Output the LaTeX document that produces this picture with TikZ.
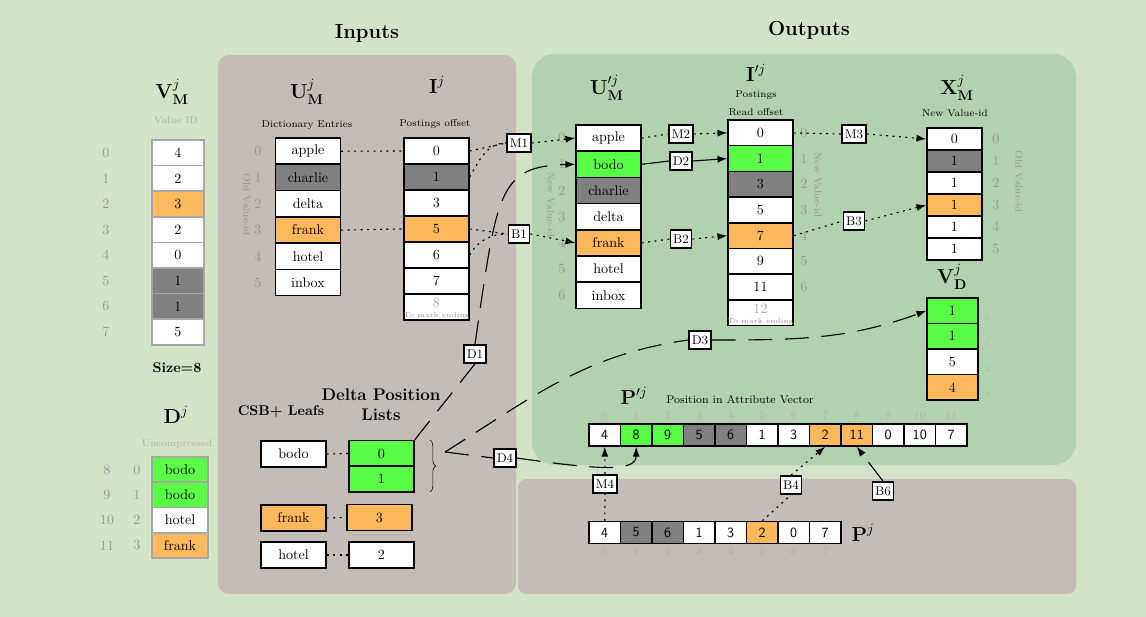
\documentclass[tikz,border=0pt]{standalone}
\usepackage{amssymb}
\usepackage{tikz}
\usetikzlibrary{arrows.meta,decorations.pathreplacing}

\definecolor{bgback}{RGB}{211,227,200}
\definecolor{inpanel}{RGB}{196,188,182}
\definecolor{outpanel}{RGB}{178,210,175}
\definecolor{cgreen}{RGB}{90,255,72}
\definecolor{corange}{RGB}{255,184,92}
\definecolor{cgray}{RGB}{128,128,128}
\definecolor{idgray}{RGB}{150,150,150}
\definecolor{subgray}{RGB}{172,172,172}

\tikzstyle{cell} = [draw,line width=1pt,rectangle,inner sep=0pt,minimum width=1.625cm,minimum height=0.65cm]
\tikzstyle{vmcell} = [cell,draw=black!35,line width=1.2pt,minimum width=1.3cm,minimum height=0.64cm]
\tikzstyle{dcell} = [vmcell,minimum width=1.4cm,minimum height=0.63cm]
\tikzstyle{xcell} = [cell,minimum width=1.375cm,minimum height=0.55cm]
\tikzstyle{vdcell} = [cell,minimum width=1.275cm,minimum height=0.64cm]
\tikzstyle{pcell} = [cell,minimum width=0.79cm,minimum height=0.55cm,font=\sffamily]
\tikzstyle{idx} = [text=idgray,inner sep=1pt]
\tikzstyle{tinyidx} = [text=subgray,font=\tiny,inner sep=1pt]
\tikzstyle{posidx} = [text=subgray,font=\scriptsize,inner sep=1pt]
\tikzstyle{title} = [font=\Large]
\tikzstyle{sub} = [font=\scriptsize]
\tikzstyle{tag} = [draw,line width=1pt,fill=white,inner sep=2pt,minimum height=13pt,font=\small]
\tikzstyle{dotline} = [thick,dash pattern=on 1.4pt off 3.2pt,>={Latex[length=7pt,width=5pt]}]
\tikzstyle{dashline} = [thick,dash pattern=on 17pt off 9pt,>={Latex[length=7pt,width=5pt]}]
\tikzstyle{arrow} = [thick,->,>={Latex[length=7pt,width=5pt]}]

\begin{document}
\begin{tikzpicture}[x=0.025cm,y=-0.025cm]
    % background and panels
    \fill[bgback] (0,0) rectangle (1146,617);
    \useasboundingbox (0,0) rectangle (1146,617);
    \fill[inpanel,rounded corners=8pt] (218,55) rectangle (516,594);
    \fill[outpanel,rounded corners=16pt] (532,54) rectangle (1076,465);
    \fill[inpanel,rounded corners=6pt] (518,479) rectangle (1076,594);

    \node[font=\Large\bfseries] (inputs) at (367,34) {Inputs};
    \node[font=\Large\bfseries] (outputs) at (809,30) {Outputs};

    % value vector of main
    \node[title] (vmtitle) at (172,92) {$\mathbf{V}^{j}_{\mathbf{M}}$};
    \node[sub,text=subgray] (vmsub) at (176,120) {Value ID};
    \foreach \v/\c [count=\i from 0] in {4/white,2/white,3/corange,2/white,0/white,1/cgray,1/cgray,5/white}{
        \node[vmcell,fill=\c] (vm\i) at (178,{152.8+25.6*\i}) {\v};
        \node[idx] (vmid\i) at (106,{152.8+25.6*\i}) {\i};
    }
    \node[font=\bfseries] (vmsize) at (177,368) {Size=8};

    % delta
    \node[title] (dtitle) at (176,415) {$\mathbf{D}^{j}$};
    \node[sub,text=subgray] (dsub) at (177,444) {Uncompressed};
    \foreach \v/\c [count=\i from 0] in {bodo/cgreen,bodo/cgreen,hotel/white,frank/corange}{
        \pgfmathtruncatemacro\k{\i+8}
        \node[dcell,fill=\c] (d\i) at (180,{469.6+25.25*\i}) {\v};
        \node[idx] (did\i) at (137,{469.6+25.25*\i}) {\i};
        \node[idx] (dgid\i) at (107,{469.6+25.25*\i}) {\k};
    }

    % dictionary of main
    \node[title] (utitle) at (307,92) {$\mathbf{U}^{j}_{\mathbf{M}}$};
    \node[sub] (usub) at (307,125) {Dictionary Entries};
    \foreach \v/\c [count=\i from 0] in {apple/white,charlie/cgray,delta/white,frank/corange,hotel/white,inbox/white}{
        \node[cell,fill=\c] (u\i) at (308,{151.2+26.3*\i}) {\v};
        \node[idx] (uid\i) at (258,{151.2+26.3*\i}) {\i};
    }
    \node[sub,text=idgray,rotate=-90] (uold) at (247,205) {Old Value-id};

    % postings offset
    \node[title] (ititle) at (437,85) {$\mathbf{I}^{j}$};
    \node[sub] (isub) at (435,124) {Postings offset};
    \foreach \v/\c [count=\i from 0] in {0/white,1/cgray,3/white,5/corange,6/white,7/white}{
        \node[cell,fill=\c] (i\i) at (436.5,{151+26*\i}) {\v};
    }
    \node[cell,fill=white] (i6) at (436.5,307) {};
    \node[text=subgray,inner sep=0pt] (i6v) at (436.5,303) {8};
    \node[tinyidx,text=idgray,anchor=south] (i6end) at (i6.south) {To mark ending};

    % new dictionary
    \node[title] (uptitle) at (607,88) {$\mathbf{U}'^{j}_{\mathbf{M}}$};
    \foreach \v/\c [count=\i from 0] in {apple/white,bodo/cgreen,charlie/cgray,delta/white,frank/corange,hotel/white,inbox/white}{
        \node[cell,fill=\c] (up\i) at (608.5,{138.1+26.2*\i}) {\v};
        \node[idx] (upid\i) at (562,{138.1+26.2*\i}) {\i};
    }
    \node[sub,text=idgray,rotate=-90] (upnew) at (551,205) {New Value-id};

    % new postings
    \node[title] (iptitle) at (756,73) {$\mathbf{I}'^{j}$};
    \node[sub] (ipsub) at (756,95) {Postings};
    \node[sub] (ipsubb) at (756,112) {Read offset};
    \foreach \v/\c [count=\i from 0] in {0/white,1/cgreen,3/cgray,5/white,7/corange,9/white,11/white}{
        \node[cell,fill=\c,minimum height=0.64cm] (ip\i) at (760.5,{132.9+25.7*\i}) {\v};
        \node[idx] (ipid\i) at (804,{132.9+25.7*\i}) {\i};
    }
    \node[cell,fill=white,minimum height=0.64cm] (ip7) at (760.5,312.8) {};
    \node[text=subgray,inner sep=0pt] (ip7v) at (760.5,309) {12};
    \node[tinyidx,text=idgray,anchor=south] (ip7end) at (ip7.south) {To mark ending};
    \node[sub,text=idgray,rotate=-90] (ipnew) at (818,185) {New Value-id};

    % mapping old to new
    \node[title] (xtitle) at (957,88) {$\mathbf{X}^{j}_{\mathbf{M}}$};
    \node[sub] (xsub) at (955,113) {New Value-id};
    \foreach \v/\c [count=\i from 0] in {0/white,1/cgray,1/white,1/corange,1/white,1/white}{
        \node[xcell,fill=\c] (x\i) at (954.5,{139+22*\i}) {\v};
        \node[idx] (xid\i) at (996,{139+22*\i}) {\i};
    }
    \node[sub,text=idgray,rotate=-90] (xold) at (1019,182) {Old Value-id};

    % value vector of delta
    \node[title] (vdtitle) at (952,277) {$\mathbf{V}^{j}_{\mathbf{D}}$};
    \foreach \v/\c [count=\i from 0] in {1/cgreen,1/cgreen,5/white,4/corange}{
        \node[vdcell,fill=\c] (vd\i) at (952.5,{310.8+25.5*\i}) {\v};
        \node[tinyidx] (vdid\i) at (987,{318+25.5*\i}) {\i};
    }

    % csb+ leafs and delta position lists
    \node[font=\bfseries] (csbtitle) at (281,412) {CSB+ Leafs};
    \node[font=\large\bfseries,align=center] (dpltitle) at (381,405) {Delta Position\\Lists};
    \node[cell,fill=white] (leafbodo) at (293.5,454) {bodo};
    \node[cell,fill=corange] (leaffrank) at (293.5,518) {frank};
    \node[cell,fill=white] (leafhotel) at (293.5,555) {hotel};
    \node[cell,fill=cgreen] (dpl0) at (381.5,453.5) {0};
    \node[cell,fill=cgreen] (dpl1) at (381.5,479) {1};
    \node[cell,fill=corange] (dpl3) at (379.5,517.5) {3};
    \node[cell,fill=white] (dpl2) at (381.5,555) {2};
    \draw[dotline] (leafbodo.east) -- (dpl0.west);
    \draw[dotline] (leaffrank.east) -- (dpl3.west);
    \draw[dotline] (leafhotel.east) -- (dpl2.west);
    \draw[decorate,decoration={brace,amplitude=4pt}] (430,440) -- (430,492);
    \coordinate (fork) at (445,452);

    % positions
    \node[title,anchor=base] (pptitle) at (634,404) {$\mathbf{P}'^{j}$};
    \node[font=\footnotesize] (ppsub) at (740,400) {Position in Attribute Vector};
    \foreach \v/\c [count=\i from 0] in {4/white,8/cgreen,9/cgreen,5/cgray,6/cgray,1/white,3/white,2/corange,11/corange,0/white,10/white,7/white}{
        \node[pcell,fill=\c] (pp\i) at ({604.75+31.5*\i},435) {\v};
        \node[posidx] (ppid\i) at ({604.75+31.5*\i},415) {\i};
    }
    \node[title] (ptitle) at (863,533) {$\mathbf{P}^{j}$};
    \foreach \v/\c [count=\i from 0] in {4/white,5/cgray,6/cgray,1/white,3/white,2/corange,0/white,7/white}{
        \node[pcell,fill=\c] (p\i) at ({604.75+31.5*\i},532.5) {\v};
        \node[posidx] (pid\i) at ({604.75+31.5*\i},551) {\i};
    }

    % step tags
    \node[tag] (m1) at (519,143) {M1};
    \node[tag] (b1) at (519,234) {B1};
    \node[tag] (m2) at (681,134) {M2};
    \node[tag] (d2) at (681,161) {D2};
    \node[tag] (b2) at (681,239) {B2};
    \node[tag] (m3) at (854,134) {M3};
    \node[tag] (b3) at (854,221) {B3};
    \node[tag] (d1) at (475,354) {D1};
    \node[tag] (d3) at (700,340) {D3};
    \node[tag] (d4) at (505,458) {D4};
    \node[tag] (m4) at (605,484) {M4};
    \node[tag] (b4) at (791,485) {B4};
    \node[tag] (b6) at (883,491) {B6};

    % merge and build connectors
    \draw[dotline] (u0.east) -- (i0.west);
    \draw[dotline] (u3.east) -- (i3.west);
    \draw[dotline] (i0.east) -- (m1.west);
    \draw[dotline] (i1.east) to[out=60,in=180] (m1.west);
    \draw[dotline] (i3.east) -- (b1.west);
    \draw[dotline] (i4.east) to[out=60,in=180] (b1.west);
    \draw[dotline,->] (m1.east) -- (up0.west);
    \draw[dotline,->] (b1.east) -- (up4.west);
    \draw[dotline] (up0.east) -- (m2.west);
    \draw[dotline,->] (m2.east) -- (ip0.west);
    \draw[thick] (up1.east) -- (d2.west);
    \draw[arrow] (d2.east) -- (ip1.west);
    \draw[dotline] (up4.east) -- (b2.west);
    \draw[dotline,->] (b2.east) -- (ip4.west);
    \draw[dotline] (ip0.east) -- (m3.west);
    \draw[dotline,->] (m3.east) -- (x0.west);
    \draw[dotline] (ip4.east) -- (b3.west);
    \draw[dotline,->] (b3.east) -- (x3.west);
    \draw[dotline] (p0.north) -- (m4.south);
    \draw[dotline,->] (m4.north) -- (pp0.south);
    \draw[dotline] (p5.north) -- (b4.south);
    \draw[dotline,->] (b4.north) -- (pp7.south);
    \draw[dashline,->] (b6.north) -- (pp8.south);
    \draw[dashline] (dpl0.north east) -- (d1.south);
    \draw[dashline,->] (d1.north) .. controls (497,195) and (497,166) .. (up1.west);
    \draw[dashline] (fork) to[out=32,in=188] (d3.west);
    \draw[dashline,->] (d3.east) to[out=0,in=200] (vd0.west);
    \draw[dashline] (fork) -- (d4.west);
    \draw[dashline,->] (d4.east) .. controls (600,470) and (636,472) .. (pp1.south);
\end{tikzpicture}
\end{document}
